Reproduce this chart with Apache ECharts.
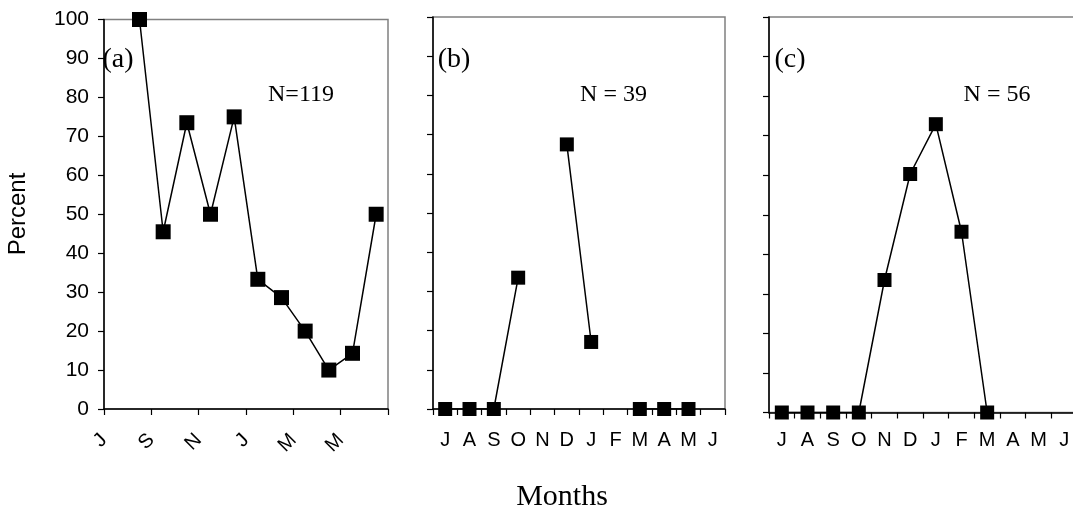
<!DOCTYPE html>
<html>
<head>
<meta charset="utf-8">
<script src="https://cdn.jsdelivr.net/npm/echarts@6/dist/echarts.min.js"></script>
<style>
html,body{margin:0;padding:0;background:#fff;}
#chart{width:1073px;height:516px;}
</style>
</head>
<body>
<div id="chart"></div>
<script>
// ---- data ----
const months = ['J','A','S','O','N','D','J','F','M','A','M','J'];
const tickLabelsA = ['J','','S','','N','','J','','M','','M','',''];
const percentA = [null,100,45.5,73.5,50,75,33.3,28.6,20,10,14.3,50];
const percentB = [0,0,0,33.5,null,67.5,17.1,null,0,0,0,null];
const percentC = [0,0,0,0,33.5,60.3,72.9,45.7,0,null,null,null];
const panelTags = ['(a)','(b)','(c)'];
const sampleSizes = ['N=119','N = 39','N = 56'];
const yTitle = 'Percent';
const xTitle = 'Months';

const sans = 'Liberation Sans, Arial, sans-serif';
const serif = 'Liberation Serif, Times New Roman, serif';

const gridBase = {show:true, borderColor:'#808080', borderWidth:1.5, containLabel:false, outerBoundsMode:'none'};
const grids = [
  Object.assign({left:104, top:19.5, width:284, height:389.5}, gridBase),
  Object.assign({left:433, top:17, width:292, height:392}, gridBase),
  Object.assign({left:769, top:17, width:308, height:395.5}, gridBase)
];

const axisLine = {show:true, lineStyle:{color:'#000', width:1.5}};
const tick = {show:true, inside:false, length:6, lineStyle:{color:'#000', width:1.2}};

function yAxis(i, showLabels){
  return {
    type:'value', gridIndex:i, min:0, max:100, interval:10,
    axisLine:axisLine, axisTick:tick, splitLine:{show:false},
    axisLabel:{show:showLabels, color:'#000', fontFamily:sans, fontSize:21, margin:15}
  };
}

const xAxes = [
  // panel a: data axis (ticks every two months)
  {type:'category', gridIndex:0, position:'bottom', data:months, boundaryGap:true,
   axisLine:axisLine, axisTick:Object.assign({}, tick, {interval:1}),
   axisLabel:{show:false}},
  // panel b
  {type:'category', gridIndex:1, position:'bottom', data:months, boundaryGap:true,
   axisLine:axisLine, axisTick:Object.assign({}, tick, {interval:0}),
   axisLabel:{interval:0, color:'#000', fontFamily:sans, fontSize:20, margin:21}},
  // panel c
  {type:'category', gridIndex:2, position:'bottom', data:months, boundaryGap:true,
   axisLine:axisLine, axisTick:Object.assign({}, tick, {interval:0}),
   axisLabel:{interval:0, color:'#000', fontFamily:sans, fontSize:20, margin:18}},
  // panel a: rotated month labels at month boundaries
  {type:'category', gridIndex:0, position:'bottom', data:tickLabelsA, boundaryGap:false,
   axisLine:{show:false}, axisTick:{show:false},
   axisLabel:{interval:0, rotate:45, color:'#000', fontFamily:sans, fontSize:20, margin:28}}
];

function series(i, data, size){
  return {
    type:'line', xAxisIndex:i, yAxisIndex:i, data:data,
    symbol:'rect', symbolSize:size, connectNulls:false,
    itemStyle:{color:'#000'}, lineStyle:{color:'#000', width:1.5},
    emphasis:{disabled:true}
  };
}

const tagX = [118, 454, 790];
const nX = [301, 613.5, 997];
const graphics = [];
for (let i=0;i<3;i++){
  graphics.push({type:'text', x:tagX[i], y:60, z:100,
    style:{text:panelTags[i], font:'28px '+serif, fill:'#000', align:'center', verticalAlign:'middle', textAlign:'center', textVerticalAlign:'middle'}});
  graphics.push({type:'text', x:nX[i], y:95, z:100,
    style:{text:sampleSizes[i], font:'24px '+serif, fill:'#000', align:'center', verticalAlign:'middle', textAlign:'center', textVerticalAlign:'middle'}});
}
graphics.push({type:'text', x:18, y:214, rotation:Math.PI/2, z:100,
  style:{text:yTitle, font:'24px '+sans, fill:'#000', align:'center', verticalAlign:'middle', textAlign:'center', textVerticalAlign:'middle'}});
graphics.push({type:'text', x:562, y:497, z:100,
  style:{text:xTitle, font:'30px '+serif, fill:'#000', align:'center', verticalAlign:'middle', textAlign:'center', textVerticalAlign:'middle'}});

const chart = echarts.init(document.getElementById('chart'), null, {renderer:'canvas'});
chart.setOption({
  animation:false,
  backgroundColor:'#fff',
  grid:grids,
  xAxis:xAxes,
  yAxis:[yAxis(0,true), yAxis(1,false), yAxis(2,false)],
  series:[series(0,percentA,15), series(1,percentB,14), series(2,percentC,14)],
  graphic:graphics
});
</script>
</body>
</html>
